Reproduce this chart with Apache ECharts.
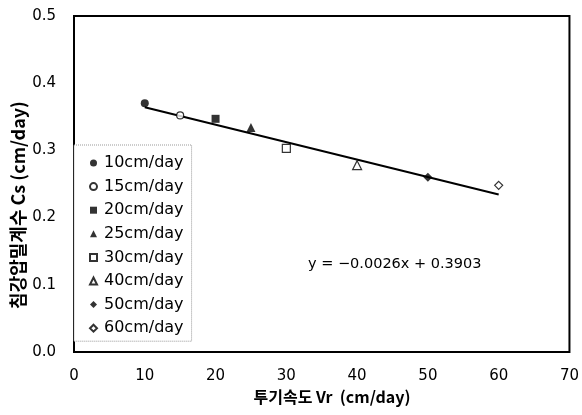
<!DOCTYPE html>
<html><head><meta charset="utf-8">
<script src="https://cdn.jsdelivr.net/npm/echarts@6/dist/echarts.min.js"></script>
<style>html,body{margin:0;padding:0;background:#fff}#c{width:582px;height:415px}</style>
</head><body><div id="c"></div>
<script>
const seriesNames = ['10cm/day','15cm/day','20cm/day','25cm/day','30cm/day','40cm/day','50cm/day','60cm/day'];
const xValues = [10, 15, 20, 25, 30, 40, 50, 60];
const yValues = [0.370, 0.352, 0.347, 0.334, 0.303, 0.278, 0.260, 0.248];
const symbols = ['circle','circle','rect','triangle','rect','triangle','diamond','diamond'];
const filled = [true,false,true,true,false,false,true,false];
const symbolSizes = [8,7,8,9,8,9,9,8];
const trendX = [10, 60];
const trendY = [0.3643, 0.2343];
const xTicks = [0,10,20,30,40,50,60,70];
const yTicks = [0.0,0.1,0.2,0.3,0.4,0.5];
const equationText = 'y = \u22120.0026x + 0.3903';
const xTitle = '투기속도 Vr  (cm/day)';
const yTitle = '침강압밀계수 Cs (cm/day)';

const font = 'DejaVu Sans, sans-serif';
const kfont = 'Noto Sans CJK KR, sans-serif';
const series = seriesNames.map((n,i)=>({
  name:n, type:'scatter', symbol:symbols[i], symbolSize:symbolSizes[i],
  data:[[xValues[i], yValues[i]]], z:5,
  itemStyle:{color: filled[i] ? '#000' : '#fff', borderColor:'#000', borderWidth: filled[i]?0:1.2}
}));
series.push({
  type:'line', data: trendX.map((x,i)=>[x, trendY[i]]), symbol:'none',
  lineStyle:{color:'#000', width:2}, z:3, silent:true
});
const chart = echarts.init(document.getElementById('c'));
chart.setOption({
  animation:false,
  grid:{left:74, right:12, top:16, bottom:63, show:true, borderColor:'#000', borderWidth:2, backgroundColor:'transparent'},
  xAxis:{type:'value', min:xTicks[0], max:xTicks[xTicks.length-1], interval:10,
    axisLine:{show:false}, axisTick:{show:false}, splitLine:{show:false},
    axisLabel:{color:'#000', fontSize:15, fontFamily:font, margin:17}},
  yAxis:{type:'value', min:yTicks[0], max:yTicks[yTicks.length-1], interval:0.1,
    axisLine:{show:false}, axisTick:{show:false}, splitLine:{show:false},
    axisLabel:{color:'#000', fontSize:15, fontFamily:font, margin:18, formatter:v=>v.toFixed(1)}},
  legend:{orient:'vertical', left:74, top:145, data:seriesNames,
    padding:[10,8,5,15], itemGap:7.6, itemWidth:7, itemHeight:7,
    borderColor:'#999', borderWidth:1, borderType:'dotted', backgroundColor:'#fff',
    textStyle:{color:'#000', fontSize:16, fontFamily:font, lineHeight:16, padding:[0,0,0,2]}},
  graphic:[
    {type:'text', left:308, top:257, style:{text:equationText, fontSize:14.5, fontFamily:font, fill:'#000'}},
    {type:'text', x:18, y:205, rotation:Math.PI/2, style:{text:yTitle, fontSize:18, fontWeight:'bold', fontFamily:kfont, fill:'#000', align:'center', verticalAlign:'middle'}},
    {type:'text', x:332, y:397, style:{text:xTitle, fontSize:16, fontWeight:'bold', fontFamily:kfont, fill:'#000', align:'center', verticalAlign:'middle'}}
  ],
  series
});
</script></body></html>
